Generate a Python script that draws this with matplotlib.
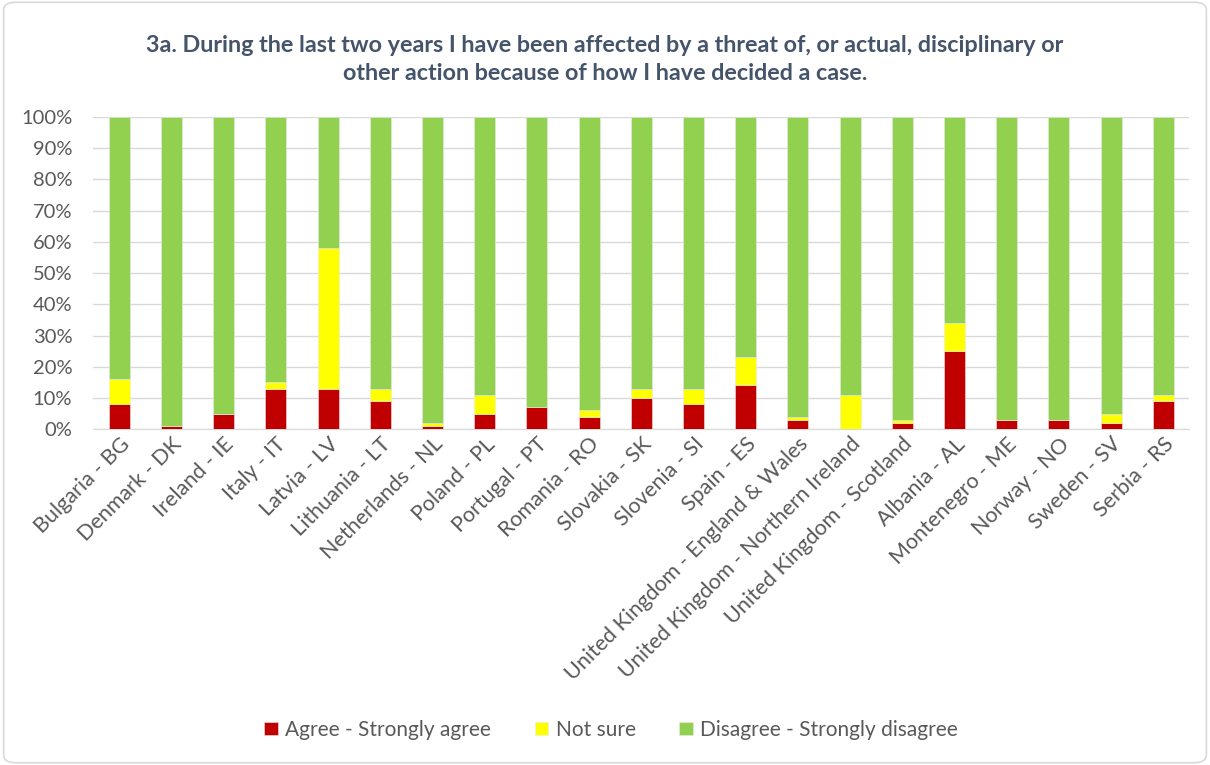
import matplotlib
matplotlib.use("Agg")
import matplotlib.pyplot as plt
import matplotlib.ticker as mticker
from matplotlib.patches import FancyBboxPatch
import numpy as np

plt.rcParams['font.family'] = ['Lato', 'DejaVu Sans']

countries = ["Bulgaria - BG", "Denmark - DK", "Ireland - IE", "Italy - IT", "Latvia - LV",
             "Lithuania - LT", "Netherlands - NL", "Poland - PL", "Portugal - PT", "Romania - RO",
             "Slovakia - SK", "Slovenia - SI", "Spain - ES", "United Kingdom - England & Wales",
             "United Kingdom - Northern Ireland", "United Kingdom - Scotland", "Albania - AL",
             "Montenegro - ME", "Norway - NO", "Sweden - SV", "Serbia - RS"]
agree = [8, 1, 5, 13, 13, 9, 1, 5, 7, 4, 10, 8, 14, 3, 0, 2, 25, 3, 3, 2, 9]
not_sure = [8, 0, 0, 2, 45, 4, 1, 6, 0, 2, 3, 5, 9, 1, 11, 1, 9, 0, 0, 3, 2]
disagree = [100 - a - n for a, n in zip(agree, not_sure)]

series_names = ["Agree - Strongly agree", "Not sure", "Disagree - Strongly disagree"]
colors = ["#C00000", "#FFFF00", "#92D050"]
title = ("3a. During the last two years I have been affected by a threat of, or actual, disciplinary or\n"
         "other action because of how I have decided a case.")

text_col = "#595959"

fig = plt.figure(figsize=(12.1, 7.65), dpi=100)
ax = fig.add_axes([0.077, 0.439, 0.906, 0.408])

x = np.arange(len(countries))
width = 0.40
bottom = np.zeros(len(countries))
for vals, name, c in zip([agree, not_sure, disagree], series_names, colors):
    vals = np.array(vals, dtype=float)
    ax.bar(x, vals, width, bottom=bottom, color=c, label=name,
           edgecolor="#e8e8e8", linewidth=0.4, zorder=3)
    bottom += vals

ax.set_xlim(-0.5, len(countries) - 0.5)
ax.set_ylim(0, 100)
ax.yaxis.set_major_locator(mticker.MultipleLocator(10))
ax.yaxis.set_major_formatter(mticker.FuncFormatter(lambda v, p: "%d%%" % v))
ax.grid(axis='y', color="#D9D9D9", linewidth=1, zorder=0)
for s in ['top', 'right', 'left']:
    ax.spines[s].set_visible(False)
ax.spines['bottom'].set_color("#D9D9D9")
ax.tick_params(axis='both', length=0, colors=text_col)
ax.tick_params(axis='x', labelsize=15.5)
ax.tick_params(axis='y', labelsize=14.5, pad=15)
ax.set_xticks(x)
ax.set_xticklabels(countries, rotation=45, ha='right', rotation_mode='anchor')

fig.text(0.5, 0.922, title, ha='center', va='center', fontsize=16.8, fontweight='bold',
         color="#44546A", linespacing=1.45)

leg = fig.legend(loc='center', bbox_to_anchor=(0.505, 0.046), ncol=3, frameon=False,
                 fontsize=15, handlelength=0.65, handleheight=0.65, columnspacing=2.1,
                 handletextpad=0.35)
for t in leg.get_texts():
    t.set_color(text_col)

border = FancyBboxPatch((0.003, 0.003), 0.994, 0.994, boxstyle="round,pad=0,rounding_size=0.01",
                        transform=fig.transFigure, fill=False, edgecolor="#D9D9D9", linewidth=1.2)
fig.patches.append(border)

fig.savefig("out.png", dpi=100)
